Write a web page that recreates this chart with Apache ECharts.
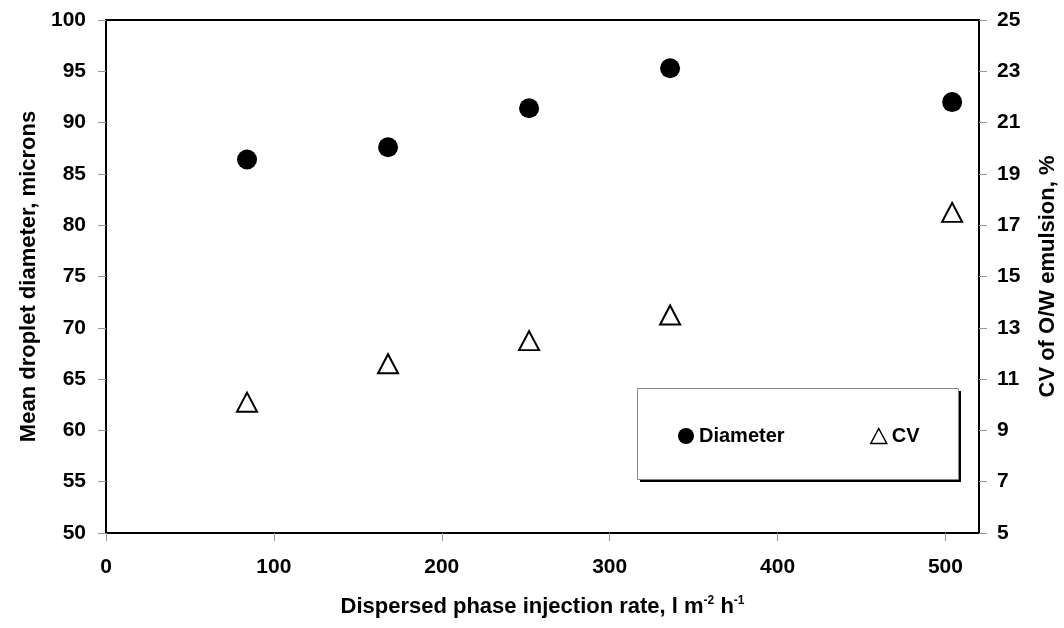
<!DOCTYPE html>
<html>
<head>
<meta charset="utf-8">
<title>Droplet diameter and CV</title>
<script src="https://cdn.jsdelivr.net/npm/echarts@6/dist/echarts.min.js"></script>
<style>
  html, body { margin: 0; padding: 0; background: #fff; }
  #chart { width: 1064px; height: 628px; }
</style>
</head>
<body>
<div id="chart"></div>
<script>
// injection rate, l m-2 h-1
const injectionRate = [84, 168, 252, 336, 504];
// mean droplet diameter, microns (left axis)
const diameter = [86.4, 87.6, 91.4, 95.3, 92.0];
// CV of O/W emulsion, % (right axis)
const cv = [10.1, 11.6, 12.5, 13.5, 17.5];

// tick labels
const xTicks = [0, 100, 200, 300, 400, 500];
const leftTicks = [50, 55, 60, 65, 70, 75, 80, 85, 90, 95, 100];
const rightTicks = [5, 7, 9, 11, 13, 15, 17, 19, 21, 23, 25];

const font = 'Liberation Sans, Arial, sans-serif';
const chart = echarts.init(document.getElementById('chart'));

const labelStyle = { fontFamily: font, fontWeight: 'bold', fontSize: 21, color: '#000' };
const nameStyle = { fontFamily: font, fontWeight: 'bold', fontSize: 22, color: '#000' };
const tickStyle = { show: true, inside: false, length: 8, lineStyle: { color: '#999', width: 1 } };
const legendText = { fontFamily: font, fontWeight: 'bold', fontSize: 20, color: '#000' };

const option = {
  backgroundColor: '#fff',
  animation: false,
  grid: {
    left: 106, right: 85, top: 20, bottom: 95,
    outerBoundsMode: 'none',  // keep the plot box where it is
    show: true, borderColor: '#000', borderWidth: 2
  },
  xAxis: {
    type: 'value',
    min: 0, max: 520,
    name: 'Dispersed phase injection rate, l m{sup|-2} h{sup|-1}',
    nameLocation: 'middle',
    nameGap: 62,
    nameTextStyle: Object.assign({}, nameStyle, {
      rich: { sup: { fontFamily: font, fontWeight: 'bold', fontSize: 12, verticalAlign: 'top', padding: [0, 0, 12, 0] } }
    }),
    axisLine: { lineStyle: { color: '#000', width: 2 } },
    axisTick: Object.assign({}, tickStyle, { customValues: xTicks }),
    axisLabel: Object.assign({}, labelStyle, { margin: 24, customValues: xTicks }),
    splitLine: { show: false }
  },
  yAxis: [{
    type: 'value',
    position: 'left',
    min: 50, max: 100, interval: 5,
    name: 'Mean droplet diameter, microns',
    nameLocation: 'middle',
    nameGap: 62,
    nameRotate: 90,
    nameTextStyle: nameStyle,
    axisLine: { show: true, lineStyle: { color: '#000', width: 2 } },
    axisTick: Object.assign({}, tickStyle, { customValues: leftTicks }),
    axisLabel: Object.assign({}, labelStyle, { margin: 20, customValues: leftTicks }),
    splitLine: { show: false }
  }, {
    type: 'value',
    position: 'right',
    min: 5, max: 25,
    name: 'CV of O/W emulsion, %',
    nameLocation: 'middle',
    nameGap: 58,
    nameRotate: 90,
    nameTextStyle: nameStyle,
    axisLine: { show: true, lineStyle: { color: '#000', width: 2 } },
    axisTick: Object.assign({}, tickStyle, { customValues: rightTicks }),
    axisLabel: Object.assign({}, labelStyle, { margin: 18, customValues: rightTicks }),
    splitLine: { show: false }
  }],
  // legend box: black shadow rect underneath, white box on top
  graphic: [{
    type: 'rect',
    left: 640, top: 391,
    shape: { width: 321, height: 91 },
    style: { fill: '#000' },
    z: 10
  }, {
    type: 'rect',
    left: 637, top: 388,
    shape: { width: 321, height: 91 },
    style: { fill: '#fff', stroke: '#888', lineWidth: 1 },
    z: 11
  }],
  legend: [{
    data: ['Diameter'],
    left: 678, top: 426,
    padding: 0,
    itemWidth: 16, itemHeight: 16,
    textStyle: legendText,
    z: 20
  }, {
    data: ['CV'],
    left: 870, top: 426,
    padding: 0,
    itemWidth: 16, itemHeight: 15,
    itemStyle: { borderWidth: 1.5 },
    textStyle: legendText,
    z: 20
  }],
  series: [{
    name: 'Diameter',
    type: 'scatter',
    yAxisIndex: 0,
    symbol: 'circle',
    symbolSize: 20,
    itemStyle: { color: '#000', opacity: 1 },
    data: injectionRate.map((x, i) => [x, diameter[i]])
  }, {
    name: 'CV',
    type: 'scatter',
    yAxisIndex: 1,
    symbol: 'triangle',
    symbolSize: [20, 19],
    itemStyle: { color: '#fff', borderColor: '#000', borderWidth: 2, opacity: 1 },
    data: injectionRate.map((x, i) => [x, cv[i]])
  }]
};

chart.setOption(option);
</script>
</body>
</html>
